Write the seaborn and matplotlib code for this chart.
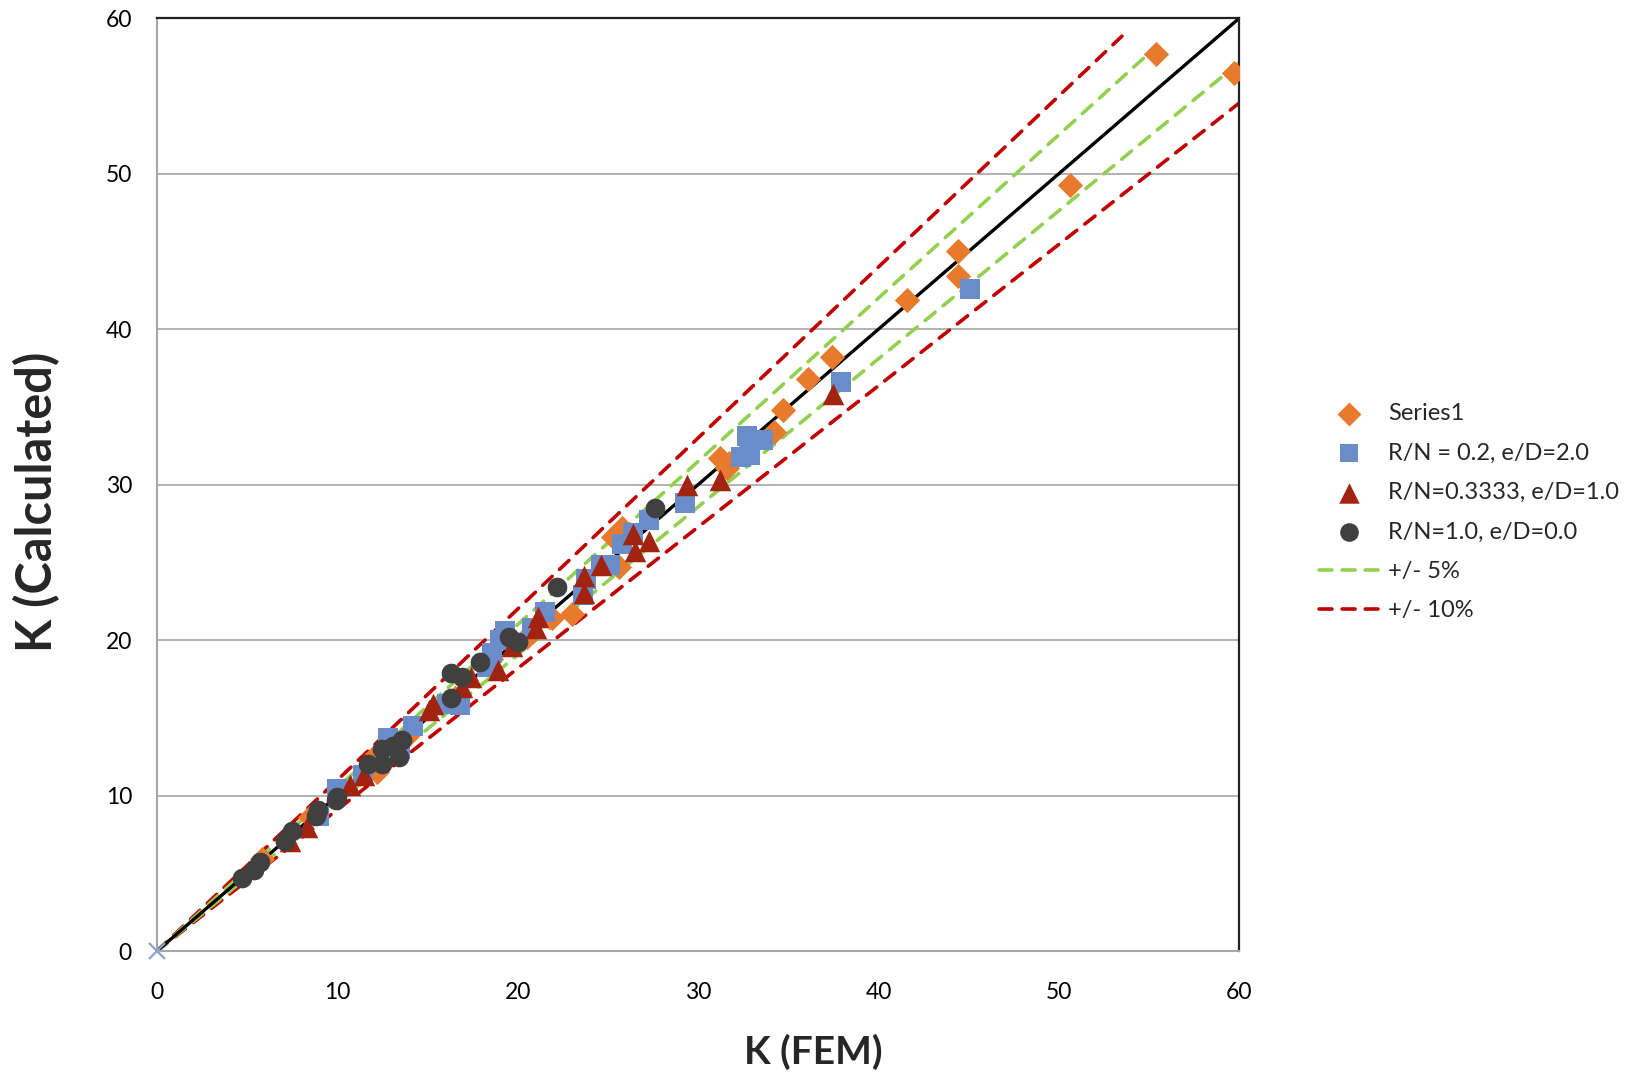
import matplotlib
matplotlib.use("Agg")
import matplotlib.pyplot as plt
import seaborn as sns
import numpy as np
import pandas as pd

# Series1 (orange diamonds)
s1_fem = [5.8, 8.5, 12.2, 12.2, 14.0, 16.5, 18.5, 20.5, 21.9, 23.0, 25.3, 25.8, 25.6,
          31.2, 31.7, 31.6, 34.2, 34.7, 36.1, 37.4, 41.6, 44.4, 44.4, 50.6, 55.4, 59.7]
s1_calc = [5.9, 8.6, 12.7, 11.5, 14.0, 16.3, 18.8, 20.2, 21.4, 21.7, 26.6, 27.2, 24.7,
           31.7, 31.4, 31.1, 33.4, 34.8, 36.8, 38.2, 41.9, 45.0, 43.4, 49.3, 57.7, 56.5]

# R/N = 0.2, e/D = 2.0 (blue squares)
s2_fem = [9.0, 10.0, 11.4, 12.8, 13.5, 14.2, 16.1, 16.8, 18.3, 18.6, 19.0, 19.3, 20.8, 21.5,
          23.6, 23.8, 24.6, 25.1, 25.8, 26.4, 27.3, 29.3, 32.4, 32.9, 32.7, 33.6, 37.9, 45.1]
s2_calc = [8.7, 10.4, 11.3, 13.7, 13.0, 14.5, 15.9, 15.8, 18.3, 19.2, 20.0, 20.6, 20.8, 21.8,
           22.9, 23.9, 24.8, 24.8, 26.2, 26.9, 27.7, 28.8, 31.8, 31.9, 33.1, 32.9, 36.6, 42.6]

# R/N = 0.3333, e/D = 1.0 (red triangles)
s3_fem = [7.4, 8.3, 10.7, 11.5, 15.1, 15.3, 16.9, 17.4, 18.9, 19.7, 21.0, 21.1, 23.7, 23.7,
          24.6, 26.4, 26.5, 27.3, 29.4, 31.2, 37.5]
s3_calc = [7.1, 8.0, 10.7, 11.3, 15.5, 15.9, 17.0, 17.6, 18.1, 19.6, 20.8, 21.5, 24.1, 23.0,
           24.8, 26.8, 25.7, 26.4, 30.0, 30.3, 35.8]

# R/N = 1.0, e/D = 0.0 (dark circles)
s4_fem = [4.7, 5.4, 5.7, 7.1, 7.5, 8.8, 8.9, 9.9, 10.0, 11.7, 12.5, 12.5, 13.1, 13.4, 13.6,
          16.3, 16.3, 16.9, 17.9, 19.5, 20.0, 22.2, 27.6]
s4_calc = [4.7, 5.2, 5.7, 7.1, 7.7, 8.7, 9.1, 9.7, 9.9, 12.0, 12.0, 13.0, 13.2, 12.5, 13.6,
           16.3, 17.9, 17.6, 18.6, 20.2, 19.9, 23.4, 28.5]

# reference / tolerance lines (x range and factor)
line_x = [0, 60]
band5_upper_x = [0, 55.4]
band10_upper_x = [0, 53.5]
factor5 = 1.05
factor10 = 1.10

ticks = [0, 10, 20, 30, 40, 50, 60]

series = [
    ("Series1", s1_fem, s1_calc, "D", "#E87A2E", 165),
    ("R/N = 0.2, e/D=2.0", s2_fem, s2_calc, "s", "#6A8DCA", 195),
    ("R/N=0.3333, e/D=1.0", s3_fem, s3_calc, "^", "#A2230F", 240),
    ("R/N=1.0, e/D=0.0", s4_fem, s4_calc, "o", "#404040", 200),
]

sns.set_style("white")
plt.rcParams["font.family"] = ["Lato", "DejaVu Sans"]

fig = plt.figure(figsize=(16.37, 10.74), dpi=100)
ax = fig.add_axes([0.0959, 0.1145, 0.6611, 0.8685])

green = "#92D050"
red = "#C00000"
dash = dict(lw=2.6, dashes=(3.6, 2.8), dash_capstyle="round")

x = np.array(line_x, dtype=float)
xg = np.array(band5_upper_x, dtype=float)
xr = np.array(band10_upper_x, dtype=float)
ax.plot(xr, xr * factor10, color=red, zorder=2, **dash)
ax.plot(x, x / factor10, color=red, zorder=2, label="+/- 10%", **dash)
ax.plot(xg, xg * factor5, color=green, zorder=2, label="+/- 5%", **dash)
ax.plot(x, x / factor5, color=green, zorder=2, **dash)
ax.plot(x, x, color="black", lw=2.4, zorder=2)

for name, fx, fy, mk, col, size in series:
    df = pd.DataFrame({"fem": fx, "calc": fy})
    sns.scatterplot(data=df, x="fem", y="calc", marker=mk, color=col, s=size,
                    linewidth=0, ax=ax, label=name, zorder=3)

ax.plot([0], [0], marker="x", color="#8EA2C8", markersize=12, mew=1.6,
        ls="none", clip_on=False, zorder=4)

ax.set_xlim(0, 60)
ax.set_ylim(0, 60)
ax.set_xticks(ticks)
ax.set_yticks(ticks)
ax.set_xlabel("")
ax.set_ylabel("")
ax.tick_params(axis="both", length=0, labelsize=16.5, colors="black")
ax.tick_params(axis="x", pad=22)
ax.tick_params(axis="y", pad=18)
ax.yaxis.grid(True, color="#A6A6A6", lw=1.2)
ax.xaxis.grid(False)
for side in ["left", "bottom"]:
    ax.spines[side].set_color("#A6A6A6")
    ax.spines[side].set_linewidth(1.5)
for side in ["top", "right"]:
    ax.spines[side].set_color("#222222")
    ax.spines[side].set_linewidth(1.6)
ax.set_axisbelow(True)

handles, labels = ax.get_legend_handles_labels()
order = [n for n, *_ in series] + ["+/- 5%", "+/- 10%"]
hmap = dict(zip(labels, handles))
ax.legend([hmap[k] for k in order], order, loc="center left",
          bbox_to_anchor=(0.793, 0.523), bbox_transform=fig.transFigure,
          frameon=False, fontsize=17, handlelength=2.5, labelspacing=0.78,
          handletextpad=0.4, markerscale=0.95)

fig.text(0.0226, 0.533, "K (Calculated)", rotation=90, ha="center", va="center",
         fontsize=35, fontweight="bold")
fig.text(0.497, 0.0205, "K (FEM)", ha="center", va="center",
         fontsize=28, fontweight="bold")

fig.savefig("out.png", dpi=100)
